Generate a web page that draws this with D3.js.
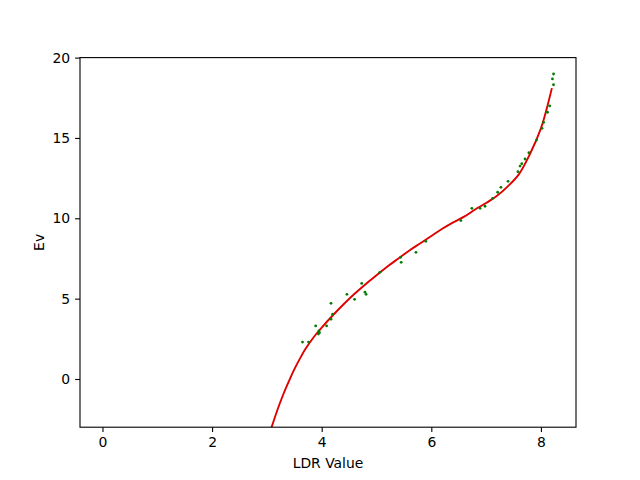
<!DOCTYPE html>
<html><head><meta charset="utf-8">
<script src="https://cdn.jsdelivr.net/npm/d3@7"></script>
<style>body{margin:0;background:#fff}svg{display:block}text{font-family:"DejaVu Sans",sans-serif}</style>
</head><body>
<script>
// Scatter measurements (LDR value, Ev)
const ldrValues = [3.65,3.76,3.89,3.94,3.95,3.96,4.09,4.17,4.20,4.17,4.46,4.60,4.73,4.79,4.81,5.06,5.44,5.45,5.72,5.90,6.54,6.74,6.89,6.98,7.12,7.21,7.27,7.40,7.58,7.62,7.65,7.71,7.78,7.92,8.02,8.05,8.12,8.16,8.23,8.21,8.23];
const evValues  = [2.30,2.30,3.30,2.80,3.00,2.88,3.30,3.72,4.03,4.71,5.27,4.96,5.95,5.40,5.27,6.64,7.57,7.26,7.88,8.57,9.86,10.62,10.62,10.75,11.24,11.62,11.93,12.30,12.90,13.25,13.40,13.69,14.08,14.87,15.60,15.97,16.60,16.99,18.31,18.67,18.98];
// Fitted curve samples
const fitX = [3.0,3.1,3.2,3.3,3.4,3.5,3.6,3.7,3.8,3.9,4.0,4.2,4.4,4.6,4.8,5.0,5.2,5.4,5.6,5.8,6.0,6.2,6.4,6.6,6.8,7.0,7.2,7.4,7.6,7.8,8.0,8.1,8.2];
const fitY = [-3.9,-2.85,-1.85,-0.95,-0.15,0.6,1.25,1.85,2.35,2.8,3.2,3.95,4.65,5.3,5.9,6.45,7.0,7.5,8.0,8.45,8.9,9.35,9.75,10.1,10.55,10.95,11.4,12.0,12.75,14.0,15.6,16.75,18.1];
const xTicks = [0,2,4,6,8];
const yTicks = [0,5,10,15,20];

const W=640,H=480, L=80, R=576, T=57.6, B=427.2;
const svg = d3.select("body").append("svg").attr("width",W).attr("height",H);
const x = d3.scaleLinear().domain([-0.41,8.64]).range([L,R]);
const y = d3.scaleLinear().domain([-3,20]).range([B,T]);

svg.append("clipPath").attr("id","clip").append("rect").attr("x",L).attr("y",T).attr("width",R-L).attr("height",B-T);
const g = svg.append("g").attr("clip-path","url(#clip)");

const fitData = fitX.map((v,i)=>[v,fitY[i]]);
g.append("path").datum(fitData)
  .attr("d", d3.line().x(d=>x(d[0])).y(d=>y(d[1])).curve(d3.curveCatmullRom))
  .attr("fill","none").attr("stroke","#e00000").attr("stroke-width",1.9);

g.selectAll("circle").data(ldrValues.map((v,i)=>[v,evValues[i]])).enter().append("circle")
  .attr("cx",d=>x(d[0])).attr("cy",d=>y(d[1])).attr("r",1.4).attr("fill","#007f00");

const fs = "13.9px";
const xa = svg.append("g").attr("transform",`translate(0,${B})`)
  .call(d3.axisBottom(x).tickValues(xTicks).tickSize(4.9).tickPadding(4.9).tickFormat(d3.format("d")));
const ya = svg.append("g").attr("transform",`translate(${L},0)`)
  .call(d3.axisLeft(y).tickValues(yTicks).tickSize(4.9).tickPadding(4.9).tickFormat(d3.format("d")));
[xa,ya].forEach(a=>{a.select(".domain").remove();a.selectAll("text").attr("font-size",fs).attr("font-family","DejaVu Sans").attr("fill","#000");a.selectAll("line").attr("stroke","#000").attr("stroke-width",1.1);});

svg.append("rect").attr("x",L).attr("y",T).attr("width",R-L).attr("height",B-T)
  .attr("fill","none").attr("stroke","#000").attr("stroke-width",1.1);

svg.append("text").attr("x",(L+R)/2).attr("y",468).attr("text-anchor","middle").attr("font-size",fs).text("LDR Value");
svg.append("text").attr("transform",`translate(44,${(T+B)/2}) rotate(-90)`).attr("text-anchor","middle").attr("font-size",fs).text("Ev");
</script>
</body></html>
